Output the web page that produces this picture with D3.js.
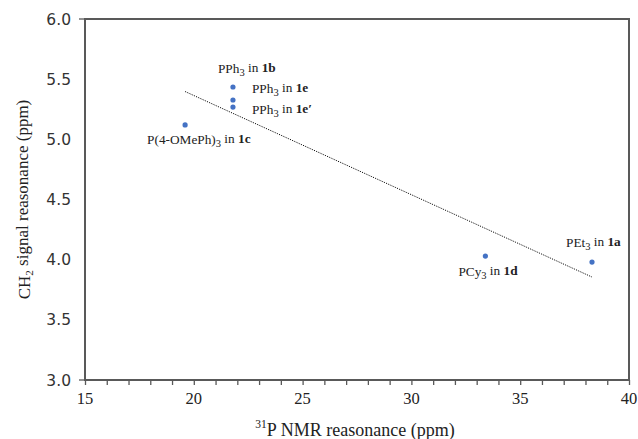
<!DOCTYPE html>
<html>
<head>
<meta charset="utf-8">
<script src="https://cdn.jsdelivr.net/npm/d3@7"></script>
<style>
  body { margin: 0; background: #fff; }
  svg { display: block; }
  .serif { font-family: 'Liberation Serif', 'Times New Roman', Times, 'DejaVu Serif', serif; }
  .lbl { font-size: 13.3px; fill: #222; }
</style>
</head>
<body>
<svg id="chart"></svg>
<script>
// data
const ligands = ['PPh3', 'PPh3', 'PPh3', 'P(4-OMePh)3', 'PCy3', 'PEt3'];
const complexes = ['1b', '1e', "1e\u2032", '1c', '1d', '1a'];
const pShift = [21.8, 21.8, 21.8, 19.6, 33.4, 38.3];
const ch2Shift = [5.435, 5.327, 5.268, 5.12, 4.03, 3.98];
// label offsets from the point (px)
const labelDx = [-15, 19, 19, -38, -27, -26];
const labelDy = [-14, -7, 7, 19, 20, -15];

const xTicks = [15, 20, 25, 30, 35, 40];
const yTicks = [3.0, 3.5, 4.0, 4.5, 5.0, 5.5, 6.0];

const width = 638, height = 439;
const margin = { left: 85, right: 9, top: 19, bottom: 59 };

const svg = d3.select('#chart').attr('width', width).attr('height', height);

const x = d3.scaleLinear().domain([15, 40]).range([margin.left, width - margin.right]);
const y = d3.scaleLinear().domain([3, 6]).range([height - margin.bottom, margin.top]);

const frameColor = '#595959';

// frame
svg.append('rect')
    .attr('x', x(15)).attr('y', y(6))
    .attr('width', x(40) - x(15)).attr('height', y(3) - y(6))
    .attr('fill', 'none').attr('stroke', frameColor).attr('stroke-width', 2);

// x axis, minor ticks every 1 unit
const xAxis = d3.axisBottom(x)
    .tickValues(d3.range(15, 41, 1))
    .tickSize(5)
    .tickFormat('');
svg.append('g')
    .attr('transform', `translate(0,${y(3)})`)
    .call(xAxis)
    .call(g => g.select('.domain').remove())
    .call(g => g.selectAll('line').attr('stroke', frameColor).attr('stroke-width', 1.3));

svg.append('g').selectAll('text')
    .data(xTicks)
    .enter()
    .append('text')
    .attr('class', 'serif')
    .attr('x', d => x(d))
    .attr('y', 404)
    .attr('text-anchor', 'middle')
    .style('font-size', '16.5px')
    .style('fill', '#222')
    .text(d => d);

// y axis labels
svg.append('g').selectAll('text')
    .data(yTicks)
    .enter()
    .append('text')
    .attr('x', 71)
    .attr('y', d => y(d))
    .attr('dy', '0.36em')
    .attr('text-anchor', 'end')
    .style('font-family', "'DejaVu Sans', Verdana, sans-serif")
    .style('font-size', '15.5px')
    .style('fill', '#333')
    .text(d => d.toFixed(1));

// short stubs at 3.0 and 6.0
svg.append('g').selectAll('line')
    .data([3, 6])
    .enter()
    .append('line')
    .attr('x1', 79).attr('x2', x(15))
    .attr('y1', d => y(d)).attr('y2', d => y(d))
    .attr('stroke', frameColor).attr('stroke-width', 1.3);

// axis titles
const xTitle = svg.append('text')
    .attr('class', 'serif')
    .attr('x', 355).attr('y', 433)
    .attr('text-anchor', 'middle')
    .style('font-size', '18px')
    .style('fill', '#222');
xTitle.append('tspan').attr('dy', '-0.45em').style('font-size', '11.5px').text('31');
xTitle.append('tspan').attr('dy', '0.45em').text('P NMR reasonance (ppm)');

const yTitle = svg.append('text')
    .attr('class', 'serif')
    .attr('transform', `translate(30,${(y(3) + y(6)) / 2}) rotate(-90)`)
    .attr('text-anchor', 'middle')
    .style('font-size', '17px')
    .style('fill', '#222');
yTitle.append('tspan').text('CH');
yTitle.append('tspan').attr('dy', '0.3em').style('font-size', '11px').text('2');
yTitle.append('tspan').attr('dy', '-0.3em').text(' signal reasonance (ppm)');

// linear trendline (least squares) across the data x range
const mx = d3.mean(pShift), my = d3.mean(ch2Shift);
const sxy = d3.sum(pShift, (v, i) => (v - mx) * (ch2Shift[i] - my));
const sxx = d3.sum(pShift, v => (v - mx) * (v - mx));
const slope = sxy / sxx;
const icpt = my - slope * mx;
const xExt = d3.extent(pShift);

svg.append('line')
    .attr('x1', x(xExt[0])).attr('y1', y(icpt + slope * xExt[0]))
    .attr('x2', x(xExt[1])).attr('y2', y(icpt + slope * xExt[1]))
    .attr('stroke', '#111')
    .attr('stroke-width', 1)
    .attr('stroke-dasharray', '1.2,1.2');

// points
svg.append('g').selectAll('circle')
    .data(pShift)
    .enter()
    .append('circle')
    .attr('cx', d => x(d))
    .attr('cy', (d, i) => y(ch2Shift[i]))
    .attr('r', 2.6)
    .attr('fill', '#4472C4');

// point labels
pShift.forEach((d, i) => {
    const t = svg.append('text')
        .attr('class', 'serif lbl')
        .attr('x', x(d) + labelDx[i])
        .attr('y', y(ch2Shift[i]) + labelDy[i]);
    const m = ligands[i].match(/^(.*?)(3)$/);
    t.append('tspan').text(m[1]);
    t.append('tspan').attr('dy', '0.3em').style('font-size', '10.5px').text('3');
    t.append('tspan').attr('dy', '-0.3em').text(' in ');
    t.append('tspan').style('font-weight', 'bold').text(complexes[i]);
});
</script>
</body>
</html>
